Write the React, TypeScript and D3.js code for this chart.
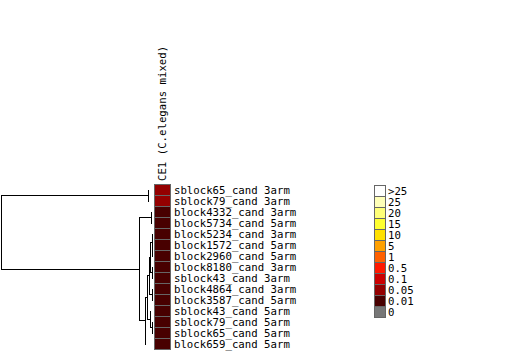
import React from "react";
import * as d3 from "d3";

// row labels, top to bottom
const rowLabels = [
  "sblock65_cand 3arm",
  "sblock79_cand 3arm",
  "block4332_cand 3arm",
  "block5734_cand 5arm",
  "block5234_cand 3arm",
  "block1572_cand 5arm",
  "block2960_cand 5arm",
  "block8180_cand 3arm",
  "sblock43_cand 3arm",
  "block4864_cand 3arm",
  "block3587_cand 5arm",
  "sblock43_cand 5arm",
  "sblock79_cand 5arm",
  "sblock65_cand 5arm",
  "block659_cand 5arm",
];

const columnLabel = "CE1 (C.elegans mixed)";

// one value per row in the single column
const cellValues = [0.07, 0.07, 0.02, 0.02, 0.02, 0.02, 0.02, 0.02, 0.02, 0.02, 0.02, 0.02, 0.02, 0.02, 0.02];

// legend bins, top to bottom
const legendLabels = [">25", "25", "20", "15", "10", "5", "1", "0.5", "0.1", "0.05", "0.01", "0"];
const legendColors = [
  "#ffffff", "#ffffb8", "#ffff78", "#ffff30", "#ffe000", "#ffa000",
  "#ff6000", "#ff1800", "#cc0000", "#940000", "#480000", "#777777",
];
const thresholds = [0.05, 0.1, 0.5, 1, 5, 10, 15, 20, 25, 25.001];

// hclust-style merges: negative = leaf (-(i+1)), positive = earlier merge (1-based)
const merges: [number, number, number][] = [
  [-1, -2, 0.0264],
  [-3, -4, 0.0066],
  [-6, -7, 0.0006],
  [-5, 3, 0.0026],
  [-8, -9, 0.0006],
  [4, 5, 0.0112],
  [-10, -11, 0.0033],
  [6, 7, 0.0198],
  [-13, -14, 0.002],
  [-12, 9, 0.0132],
  [8, 10, 0.033],
  [11, -15, 0.0442],
  [2, 12, 0.0858],
  [1, 13, 1],
];

const App = () => {
  const width = 525, height = 354;

  const y = d3.scaleBand<string>().domain(rowLabels.map((_, i) => String(i))).range([184, 349]);
  const rowY = (i: number) => (y(String(i)) as number) + y.bandwidth() / 2;
  const x = d3.scaleLinear().domain([0, 1]).range([152, 0.5]);

  // value -> colour; lowest bin (<0.05) is the "0.01" colour
  const color = d3.scaleThreshold<number, string>()
    .domain(thresholds)
    .range(legendColors.slice(0, 11).reverse());

  const nodes: { x: number; y: number }[] = [];
  const pos = (id: number) => (id < 0 ? { x: x(0), y: rowY(-id - 1), leaf: true } : { ...nodes[id - 1], leaf: false });
  const segs: { x1: number; y1: number; x2: number; y2: number }[] = [];
  merges.forEach(([a, b, h]) => {
    const pa = pos(a), pb = pos(b);
    const nx = x(h);
    const ny = (pa.y + pb.y) / 2;
    segs.push({ x1: nx, y1: pa.y, x2: nx, y2: pb.y });
    if (!pa.leaf) segs.push({ x1: nx, y1: pa.y, x2: pa.x, y2: pa.y });
    if (!pb.leaf) segs.push({ x1: nx, y1: pb.y, x2: pb.x, y2: pb.y });
    nodes.push({ x: nx, y: ny });
  });

  const ly = d3.scaleBand<string>().domain(legendLabels).range([185, 317]);

  const font = "'DejaVu Sans Mono', monospace";
  const fs = 10.7;

  return (
    <svg width={width} height={height} style={{ position: "absolute", left: 0, top: 0, background: "#fff" }}>
      {segs.map((s, i) => (
        <line key={i} x1={Math.round(s.x1) + 0.5} y1={Math.round(s.y1) + 0.5}
          x2={Math.round(s.x2) + 0.5} y2={Math.round(s.y2) + 0.5}
          stroke="#000" strokeWidth={1} strokeLinecap="square" />
      ))}
      <text transform={`translate(166,181) rotate(-90)`} fontFamily={font} fontSize={fs} fill="#000">
        {columnLabel}
      </text>
      {cellValues.map((v, i) => (
        <rect key={i} x={154.5} y={(y(String(i)) as number) + 0.5} width={16} height={y.bandwidth()}
          fill={v === 0 ? "#777777" : color(v)} stroke="#666" strokeWidth={1} />
      ))}
      {rowLabels.map((t, i) => (
        <text key={i} x={174} y={rowY(i) + 4} fontFamily={font} fontSize={fs} fill="#000">{t}</text>
      ))}
      {legendLabels.map((t, i) => (
        <g key={t}>
          <rect x={374.5} y={(ly(t) as number) + 0.5} width={11} height={ly.bandwidth()}
            fill={legendColors[i]} stroke="#666" strokeWidth={1} />
          <text x={388} y={(ly(t) as number) + ly.bandwidth() / 2 + 4} fontFamily={font} fontSize={fs} fill="#000">{t}</text>
        </g>
      ))}
    </svg>
  );
};

export default App;
